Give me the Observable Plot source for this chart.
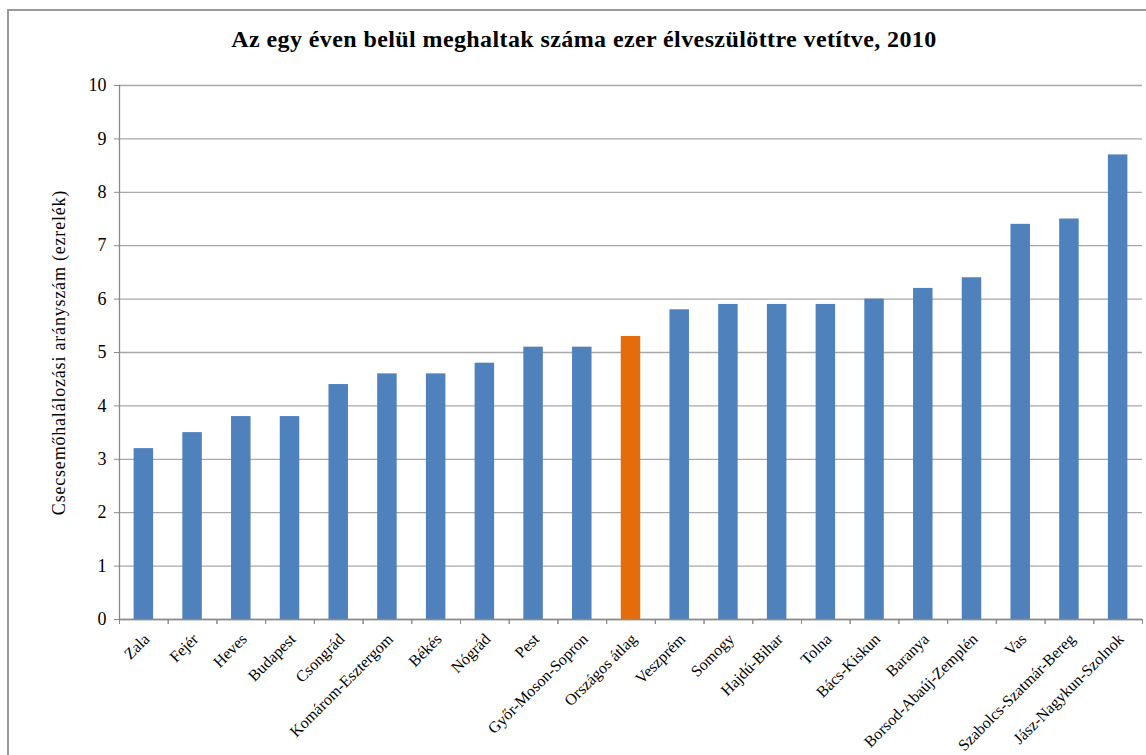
<!DOCTYPE html>
<html>
<head>
<meta charset="utf-8">
<script src="https://cdn.jsdelivr.net/npm/d3@7"></script>
<script src="https://cdn.jsdelivr.net/npm/@observablehq/plot@0.6"></script>
<style>
  body { margin: 0; background: #fff; font-family: "Liberation Serif", "Times New Roman", serif; }
  #wrap { position: relative; width: 1146px; height: 755px; overflow: hidden; }
  #frame { position: absolute; left: 7px; top: 9px; width: 1300px; height: 900px; border-left: 2px solid #9a9a9a; border-top: 2px solid #9a9a9a; }
  #title { position: absolute; left: 0; top: 26px; width: 1168px; text-align: center; font-weight: bold; font-size: 24px; letter-spacing: 0.4px; color: #000; }
  #chart { position: absolute; left: 0; top: 60px; }
</style>
</head>
<body>
<div id="wrap">
  <div id="frame"></div>
  <div id="title">Az egy éven belül meghaltak száma ezer élveszülöttre vetítve, 2010</div>
  <div id="chart"></div>
</div>
<script>
const counties = ["Zala", "Fejér", "Heves", "Budapest", "Csongrád", "Komárom-Esztergom", "Békés", "Nógrád", "Pest", "Győr-Moson-Sopron", "Országos átlag", "Veszprém", "Somogy", "Hajdú-Bihar", "Tolna", "Bács-Kiskun", "Baranya", "Borsod-Abaúj-Zemplén", "Vas", "Szabolcs-Szatmár-Bereg", "Jász-Nagykun-Szolnok"];
const rates = [3.2, 3.5, 3.8, 3.8, 4.4, 4.6, 4.6, 4.8, 5.1, 5.1, 5.3, 5.8, 5.9, 5.9, 5.9, 6.0, 6.2, 6.4, 7.4, 7.5, 8.7];
const highlight = "Országos átlag";
const yTicks = [0, 1, 2, 3, 4, 5, 6, 7, 8, 9, 10];
const yLabel = "Csecsemőhalálozási arányszám (ezrelék)";

const data = counties.map((c, i) => ({county: c, rate: rates[i]}));

const W = 1146, H = 695;
const mL = 119, mR = 4, mT = 25, mB = 136;
const step = (W - mL - mR) / counties.length;

const chart = Plot.plot({
  width: W,
  height: H,
  marginLeft: mL,
  marginRight: mR,
  marginTop: mT,
  marginBottom: mB,
  style: {fontFamily: "'Liberation Serif', 'Times New Roman', serif", color: "#000", background: "transparent"},
  x: {domain: counties, paddingInner: 0.6, paddingOuter: 0.3, round: false},
  y: {domain: [0, 10]},
  marks: [
    Plot.gridY(yTicks, {stroke: "#a8a8a8", strokeOpacity: 1, strokeWidth: 1.3}),
    Plot.barY(data, {x: "county", y: "rate", fill: d => d.county === highlight ? "#E46C0A" : "#4F81BD"}),
    Plot.ruleY([0], {stroke: "#8a8a8a", strokeWidth: 1.3}),
    Plot.frame({anchor: "left", stroke: "#8a8a8a", strokeWidth: 1.3}),
    Plot.axisY(yTicks, {tickSize: 5, tickPadding: 8, stroke: "#8a8a8a", fontSize: 18, tickFormat: d3.format("d"), label: yLabel, labelAnchor: "center", labelArrow: "none", labelOffset: 67}),
    Plot.axisX({tickSize: 5, dx: -step / 2, stroke: "#8a8a8a", tickFormat: () => "", label: null}),
    Plot.axisX({tickSize: 5, dx: step / 2, stroke: "#8a8a8a", tickFormat: () => "", label: null}),
    Plot.axisX({tickSize: 0, tickRotate: -45, tickPadding: 17, dx: 3, fontSize: 16, label: null})
  ]
});
document.getElementById("chart").appendChild(chart);
d3.select(chart).selectAll("[aria-label='y-axis label'] text").style("font-size", "18px").style("letter-spacing", "0.8px");
</script>
</body>
</html>
